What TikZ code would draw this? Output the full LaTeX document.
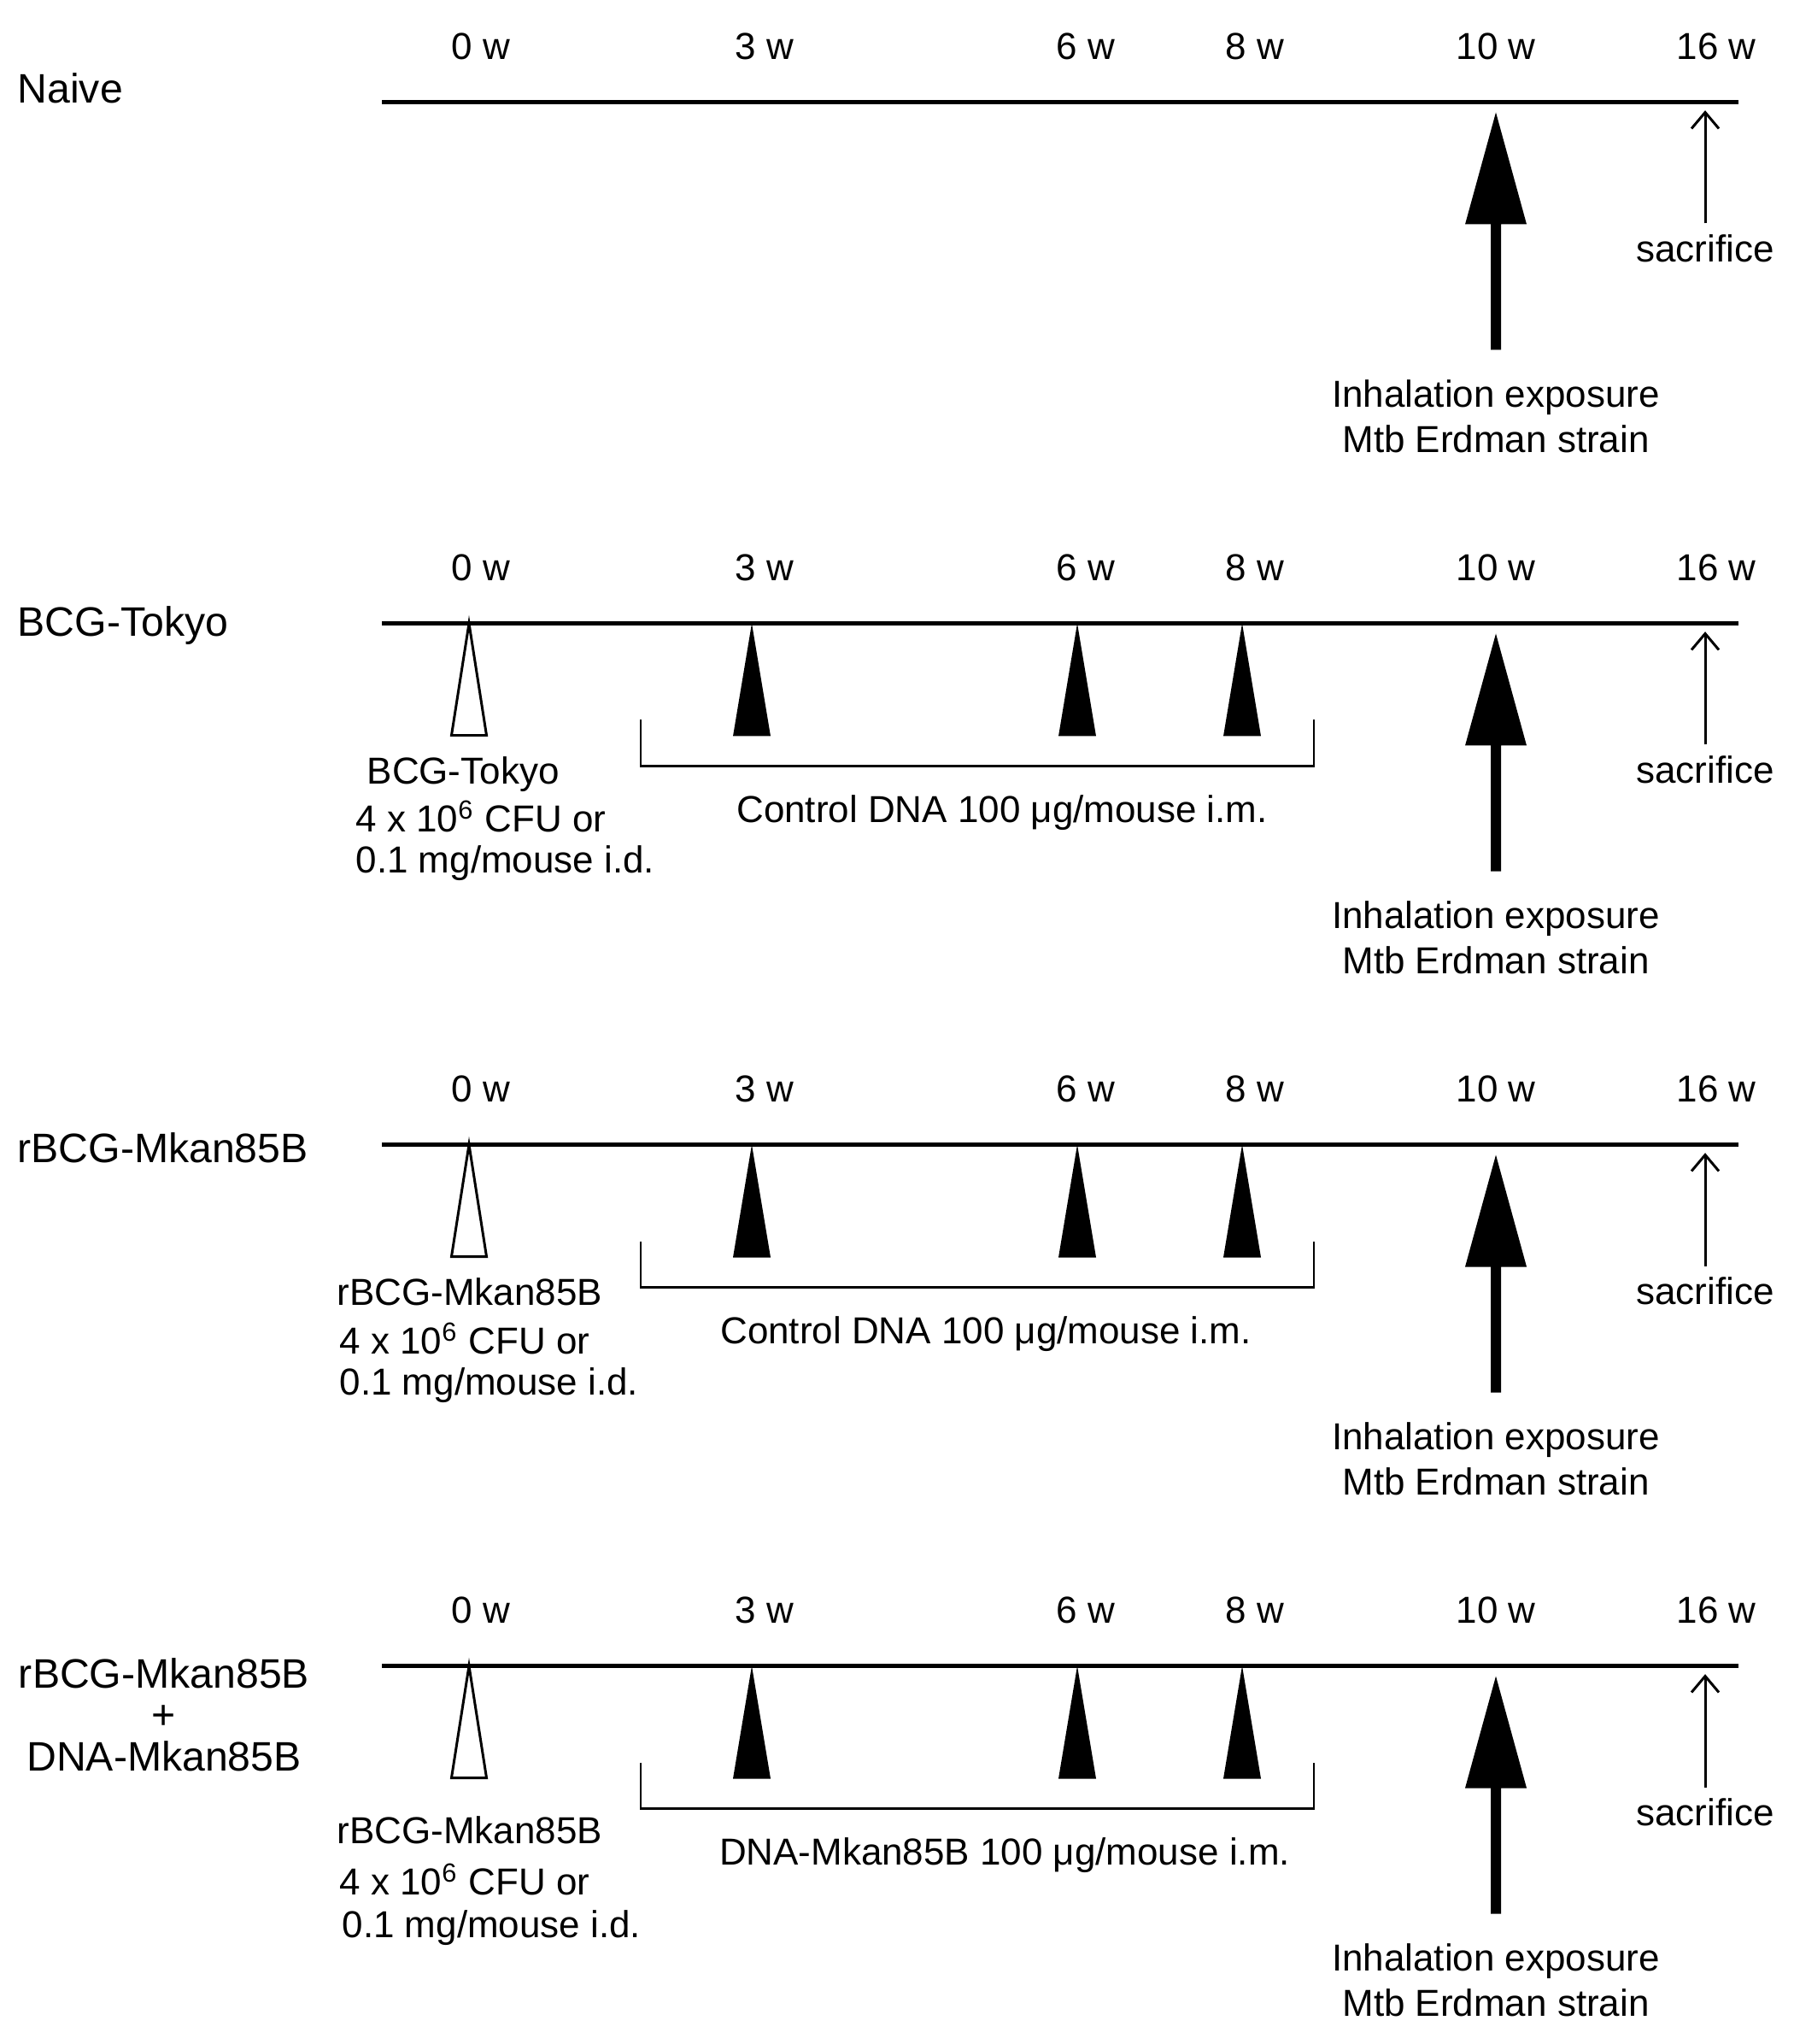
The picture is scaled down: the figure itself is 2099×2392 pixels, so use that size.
\documentclass[tikz,border=0pt]{standalone}
\usepackage{fontspec}
\setmainfont{Liberation Sans}
\begin{document}
\begin{tikzpicture}[x=0.01cm,y=-0.01cm]
\tikzset{
  lbl/.style={font=\fontsize{12.5}{15}\selectfont, inner sep=0pt, anchor=base},
  lblw/.style={lbl, anchor=base west},
  rowlbl/.style={font=\fontsize{13.7}{13.8}\selectfont, inner sep=0pt, anchor=base west},
  axis/.style={line width=1.15pt},
  opentri/.style={draw, line width=0.85pt, fill=white, line join=miter},
  filltri/.style={fill=black},
  brk/.style={line width=0.8pt},
  thinarrow/.style={line width=0.85pt},
}
\useasboundingbox (0,0) rectangle (2099,2392);

\newcommand\panelbase[1]{%
  \coordinate (#1L) at (447,0); \coordinate (#1R) at (2035,0);
  \draw[axis] (#1L) -- (#1R);
  \foreach \xx/\ww/\nn in {563/0/a,895/3/b,1271/6/c,1469/8/d,1751/10/e,2009/16/f}
    \node[lbl] (#1wk\nn) at (\xx,-50) {\ww\ w};
  % big arrow (inhalation)
  \coordinate (#1tip) at (1751,12); \coordinate (#1bot) at (1751,290);
  \fill (#1tip) -- (1715,143) -- (1745,143) |- (#1bot) -| (1757,143) -- (1787,143) -- cycle;
  \node[lbl] (#1inh) at (1751,357) {Inhalation exposure};
  \node[lbl] (#1mtb) at (1751,410) {Mtb Erdman strain};
  % sacrifice arrow
  \coordinate (#1stip) at (1996,12); \coordinate (#1sbot) at (1996,142);
  \draw[thinarrow] (#1sbot) -- (#1stip);
  \draw[thinarrow, line join=miter] (1980,31) -- (#1stip) -- (2012,31);
  \node[lbl] (#1sac) at (1996,187) {sacrifice};
}
\newcommand\vaccines[1]{%
  \draw[opentri] (549,0) -- (569.5,131) -- (528.5,131) -- cycle;
  \foreach \xx in {880,1261,1454}
    \fill[filltri] (\xx,0) -- (\xx+22,132) -- (\xx-22,132) -- cycle;
  \coordinate (#1bl) at (750,113); \coordinate (#1br) at (1538,113);
  \draw[brk] (#1bl) -- (750,167) -- (1538,167) -- (#1br);
}

% ---------- Naive ----------
\begin{scope}[shift={(0,119.5)}]
  \panelbase{n}
  \node[rowlbl] (nrow) at (20,1) {Naive};
\end{scope}

% ---------- BCG-Tokyo ----------
\begin{scope}[shift={(0,729.5)}]
  \panelbase{b}
  \vaccines{b}
  \node[rowlbl] (brow) at (20,15) {BCG-Tokyo};
  \node[lblw] (bv1) at (429,188) {BCG-Tokyo};
  \node[lblw] (bv2) at (416,244) {4 x 10\textsuperscript{6} CFU or};
  \node[lblw] (bv3) at (416,292) {0.1 mg/mouse i.d.};
  \node[lbl] (bdna) at (1173,233) {Control DNA 100 μg/mouse i.m.};
\end{scope}

% ---------- rBCG-Mkan85B ----------
\begin{scope}[shift={(0,1339.5)}]
  \panelbase{r}
  \vaccines{r}
  \node[rowlbl] (rrow) at (20,21) {rBCG-Mkan85B};
  \node[lblw] (rv1) at (394,188) {rBCG-Mkan85B};
  \node[lblw] (rv2) at (397,245) {4 x 10\textsuperscript{6} CFU or};
  \node[lblw] (rv3) at (397,293) {0.1 mg/mouse i.d.};
  \node[lbl] (rdna) at (1154,233) {Control DNA 100 μg/mouse i.m.};
\end{scope}

% ---------- rBCG-Mkan85B + DNA-Mkan85B ----------
\begin{scope}[shift={(0,1949.5)}]
  \panelbase{d}
  \vaccines{d}
  \node[font=\fontsize{13.7}{13.8}\selectfont, inner sep=0pt, anchor=base, align=center] (drow) at (192,123) {rBCG-Mkan85B\\+\\DNA-Mkan85B};
  \node[lblw] (dv1) at (394,208) {rBCG-Mkan85B};
  \node[lblw] (dv2) at (397,268) {4 x 10\textsuperscript{6} CFU or};
  \node[lblw] (dv3) at (400,318) {0.1 mg/mouse i.d.};
  \node[lbl] (ddna) at (1176,233) {DNA-Mkan85B 100 μg/mouse i.m.};
\end{scope}
\end{tikzpicture}
\end{document}
